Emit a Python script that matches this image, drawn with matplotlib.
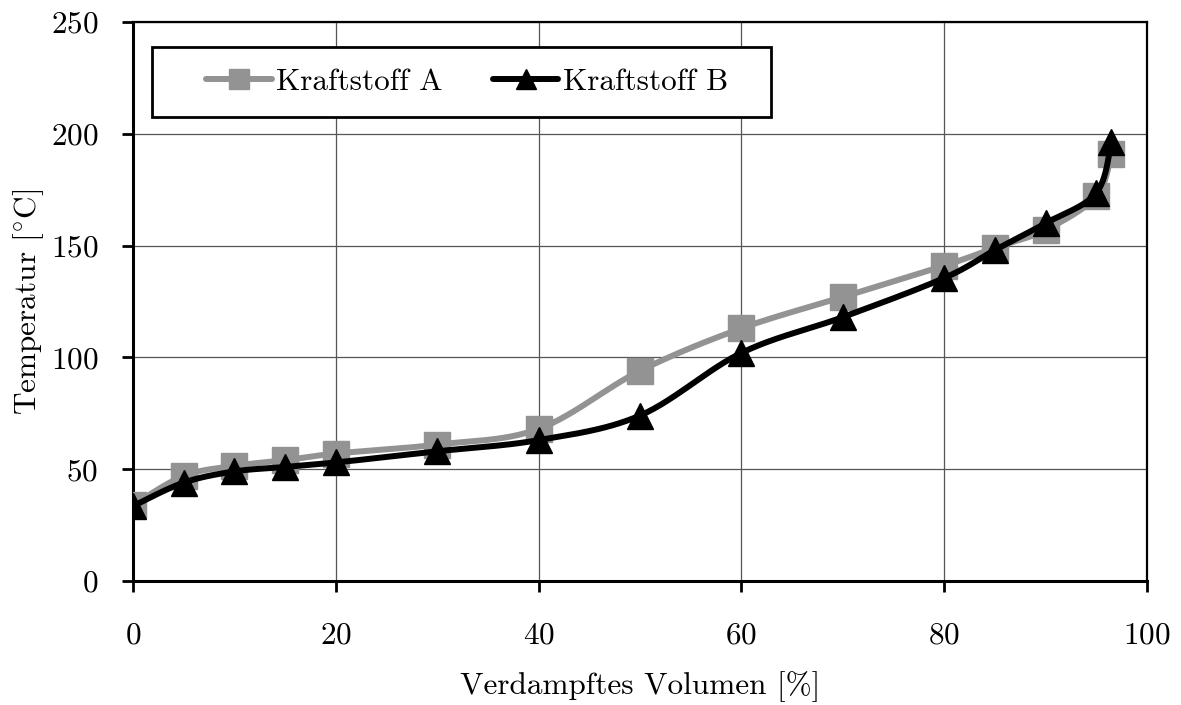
import numpy as np
import matplotlib.pyplot as plt
from matplotlib.patches import Rectangle

plt.rcParams['font.family'] = ['cmr10', 'DejaVu Serif']
plt.rcParams['mathtext.fontset'] = 'cm'
plt.rcParams['axes.formatter.use_mathtext'] = True

# Data
volumen = [0, 5, 10, 15, 20, 30, 40, 50, 60, 70, 80, 85, 90, 95, 96.5]
temp_a = [34, 47, 51.5, 54, 57, 61, 68, 94, 113, 127, 141, 149, 157, 172, 191]
temp_b = [33.5, 44, 49, 51, 53, 58, 63, 74, 102, 118, 135.5, 148, 160, 173.5, 196.5]

x_ticks = [0, 20, 40, 60, 80, 100]
y_ticks = [0, 50, 100, 150, 200, 250]


def smooth(x, y, n=30):
    # Excel-style smoothed line (Catmull-Rom through the points)
    x = np.asarray(x, float)
    y = np.asarray(y, float)
    px = np.concatenate([[x[0]], x, [x[-1]]])
    py = np.concatenate([[y[0]], y, [y[-1]]])
    xs, ys = [], []
    t = np.linspace(0, 1, n)
    for i in range(1, len(px) - 2):
        p0x, p1x, p2x, p3x = px[i - 1:i + 3]
        p0y, p1y, p2y, p3y = py[i - 1:i + 3]
        c1x = p1x + (p2x - p0x) / 6
        c1y = p1y + (p2y - p0y) / 6
        c2x = p2x - (p3x - p1x) / 6
        c2y = p2y - (p3y - p1y) / 6
        bx = (1 - t) ** 3 * p1x + 3 * (1 - t) ** 2 * t * c1x + 3 * (1 - t) * t ** 2 * c2x + t ** 3 * p2x
        by = (1 - t) ** 3 * p1y + 3 * (1 - t) ** 2 * t * c1y + 3 * (1 - t) * t ** 2 * c2y + t ** 3 * p2y
        xs.extend(bx)
        ys.extend(by)
    return np.array(xs), np.array(ys)


fs = 22.5
fig = plt.figure(figsize=(11.81, 7.05), dpi=100)
ax = fig.add_axes([0.1126, 0.1759, 0.8586, 0.7929])

gray = '#939393'
lw = 4.3

sx, sy = smooth(volumen, temp_a)
ax.plot(sx, sy, color=gray, lw=lw, solid_capstyle='round', zorder=3)
ax.plot(volumen, temp_a, ls='none', marker='s', ms=19, color=gray, zorder=4)

sx, sy = smooth(volumen, temp_b)
ax.plot(sx, sy, color='black', lw=lw, solid_capstyle='round', zorder=5)
ax.plot(volumen, temp_b, ls='none', marker='^', ms=19, color='black', zorder=6)

# legend proxies
ax.plot([], [], color=gray, lw=lw, marker='s', ms=15, solid_capstyle='round', label='Kraftstoff A')
ax.plot([], [], color='black', lw=lw, marker='^', ms=14, solid_capstyle='round', label='Kraftstoff B')

ax.set_xlim(0, 100)
ax.set_ylim(0, 250)
ax.set_xticks(x_ticks)
ax.set_yticks(y_ticks)
ax.grid(True, color='#555555', lw=0.9)
ax.set_axisbelow(True)

for side in ['left', 'bottom']:
    ax.spines[side].set_linewidth(2.2)
for side in ['top', 'right']:
    ax.spines[side].set_linewidth(1.6)

ax.tick_params(axis='both', direction='out', length=8, width=2, labelsize=fs, colors='black')
ax.tick_params(axis='y', pad=17)
ax.tick_params(axis='x', pad=21)

ax.set_xlabel('Verdampftes Volumen [%]', fontsize=fs, labelpad=16)
ax.set_ylabel(r'Temperatur [$^{\circ}$C]', fontsize=fs, labelpad=3)

# legend box drawn separately so the padding matches
box = Rectangle((0.0187, 0.830), 0.6105, 0.125, transform=ax.transAxes,
                facecolor='white', edgecolor='black', lw=2, zorder=9)
ax.add_patch(box)
leg = ax.legend(loc='center', bbox_to_anchor=(0.3295, 0.8925), ncol=2, fontsize=fs,
                frameon=False, handlelength=2.1, handletextpad=0.15,
                columnspacing=1.6, borderpad=0, borderaxespad=0, numpoints=1)
leg.set_zorder(10)

fig.savefig('out.png', dpi=100, facecolor='white')
